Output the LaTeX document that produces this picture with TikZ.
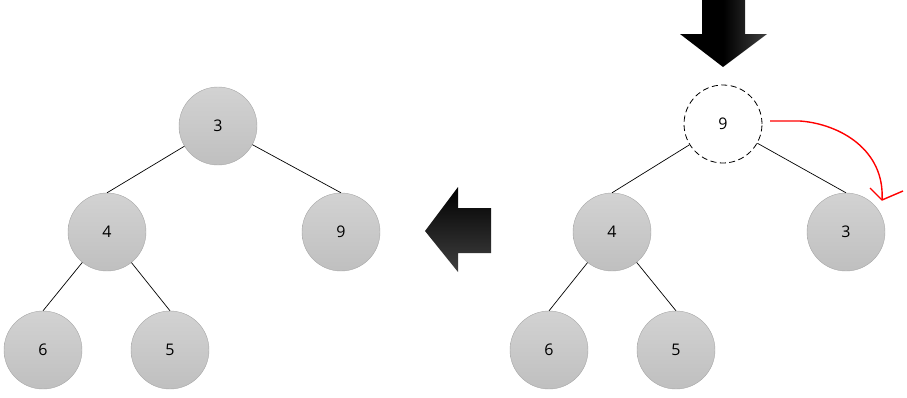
\documentclass[tikz,border=0pt]{standalone}
\usepackage{fontspec}
\setmainfont{Open Sans}
\usetikzlibrary{shadings}
\begin{document}
\begin{tikzpicture}[x=1pt,y=-1pt,
  nd/.style={circle,minimum size=78pt,inner sep=0pt,draw=gray!70,top color=gray!35,bottom color=gray!50,font=\fontsize{16}{18}\selectfont},
  dnd/.style={circle,minimum size=78pt,inner sep=0pt,draw=black,line width=0.8pt,dash pattern=on 6pt off 3.5pt,fill=white,font=\fontsize{16}{18}\selectfont},
  edge/.style={draw=black,line width=0.7pt}]
\useasboundingbox (0,0) rectangle (907,397);
% left tree
\node[nd] (a3) at (218,126) {3};
\node[nd] (a4) at (107,232) {4};
\node[nd] (a9) at (341,232) {9};
\node[nd] (a6) at (43,350) {6};
\node[nd] (a5) at (170,350) {5};
\draw[edge] (a3) -- (a4.north);
\draw[edge] (a3) -- (a9.north);
\draw[edge] (a4) -- (a6.north);
\draw[edge] (a4) -- (a5.north);
% right tree
\node[dnd] (b9) at (723,124) {9};
\node[nd] (b4) at (612,232) {4};
\node[nd] (b3) at (846,232) {3};
\node[nd] (b6) at (549,350) {6};
\node[nd] (b5) at (676,350) {5};
\draw[edge] (b9) -- (b4.north);
\draw[edge] (b9) -- (b3.north);
\draw[edge] (b4) -- (b6.north);
\draw[edge] (b4) -- (b5.north);
% down arrow
\shade[left color=black,right color=black!75,middle color=black] (702,0) -- (745,0) -- (745,34) -- (767,34) -- (723,67) -- (680,34) -- (702,34) -- cycle;
% left arrow
\shade[top color=black,bottom color=black!75] (425,231) -- (458,187) -- (458,208) -- (491,208) -- (491,253) -- (458,253) -- (458,272) -- cycle;
% red swap curve
\coordinate (r0) at (770,121);
\coordinate (r1) at (882,200);
\draw[red,line width=1.4pt] (r0) -- (800,121) .. controls (840,124) and (885,150) .. (r1);
\draw[red,line width=1.4pt,line join=round] (870,188) -- (r1) -- (903,191);
\end{tikzpicture}
\end{document}
